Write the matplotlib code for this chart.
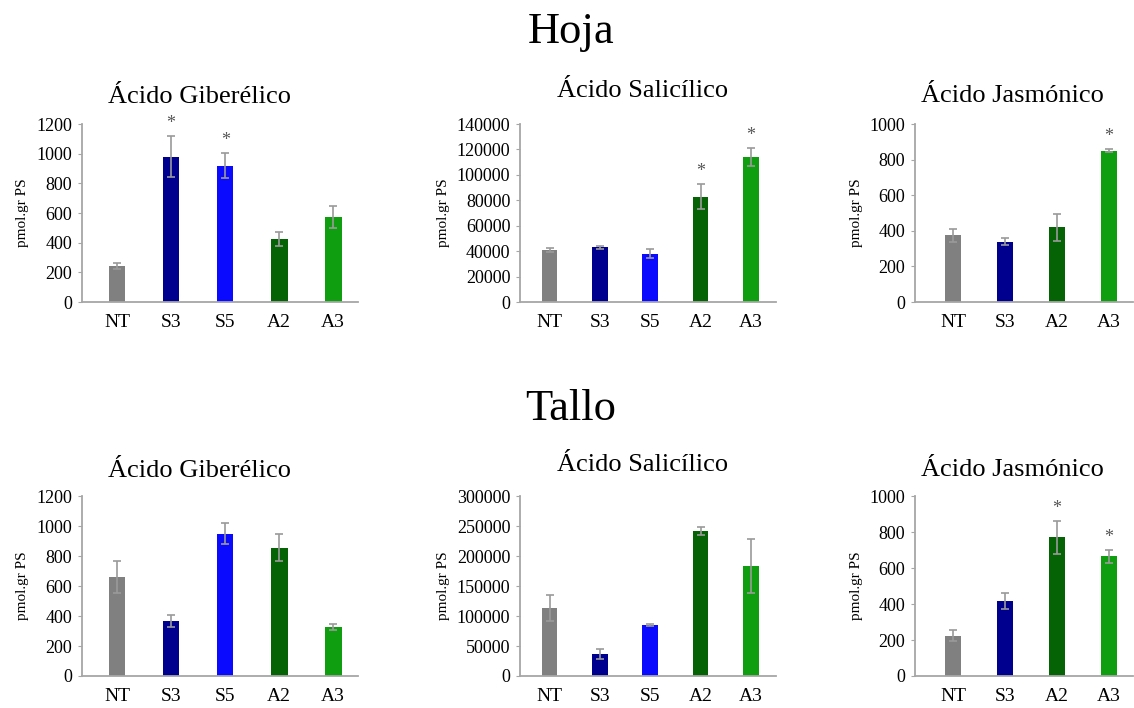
#!/usr/bin/env python3
import matplotlib
matplotlib.use('Agg')
import matplotlib.pyplot as plt

plt.rcParams['font.family'] = ['Liberation Serif', 'DejaVu Serif']

# Treatment colours shared by every panel
COLORS = {
    'NT': '#808080',
    'S3': '#00008f',
    'S5': '#0a0aff',
    'A2': '#056305',
    'A3': '#0f9e0f',
}

# Hoja (leaf)
hoja_ga_labels = ['NT', 'S3', 'S5', 'A2', 'A3']
hoja_ga_values = [245, 980, 920, 425, 575]
hoja_ga_errors = [20, 140, 85, 45, 75]
hoja_ga_stars = [False, True, True, False, False]

hoja_sa_labels = ['NT', 'S3', 'S5', 'A2', 'A3']
hoja_sa_values = [41000, 43000, 38000, 83000, 114000]
hoja_sa_errors = [1500, 1000, 3500, 10000, 7000]
hoja_sa_stars = [False, False, False, True, True]

hoja_ja_labels = ['NT', 'S3', 'A2', 'A3']
hoja_ja_values = [375, 340, 420, 850]
hoja_ja_errors = [35, 20, 75, 8]
hoja_ja_stars = [False, False, False, True]

# Tallo (stem)
tallo_ga_labels = ['NT', 'S3', 'S5', 'A2', 'A3']
tallo_ga_values = [660, 370, 950, 855, 325]
tallo_ga_errors = [105, 40, 70, 90, 20]
tallo_ga_stars = [False, False, False, False, False]

tallo_sa_labels = ['NT', 'S3', 'S5', 'A2', 'A3']
tallo_sa_values = [113000, 37000, 85000, 242000, 183000]
tallo_sa_errors = [22000, 8000, 2000, 7000, 45000]
tallo_sa_stars = [False, False, False, False, False]

tallo_ja_labels = ['NT', 'S3', 'A2', 'A3']
tallo_ja_values = [225, 415, 770, 665]
tallo_ja_errors = [30, 45, 90, 35]
tallo_ja_stars = [False, False, True, True]

GA_TICKS = [0, 200, 400, 600, 800, 1000, 1200]
SA_HOJA_TICKS = list(range(0, 140001, 20000))
SA_TALLO_TICKS = list(range(0, 300001, 50000))
JA_TICKS = [0, 200, 400, 600, 800, 1000]

AXIS_GRAY = '#a6a6a6'


def bar_panel(rect, title, labels, values, errors, stars, yticks, xlim, title_xy):
    ax = fig.add_axes(rect)
    x = list(range(len(labels)))
    ax.bar(x, values, width=0.31, color=[COLORS[l] for l in labels], zorder=2)
    ax.errorbar(x, values, yerr=errors, fmt='none', ecolor='#9a9a9a',
                elinewidth=1.2, capsize=3, capthick=1.2, zorder=3)
    for i, (v, e, s) in enumerate(zip(values, errors, stars)):
        if s:
            ax.annotate('*', xy=(i, v + e), xytext=(0, 3), textcoords='offset points',
                        ha='center', va='bottom', fontsize=13, color='#555555')
    ax.set_xlim(*xlim)
    ax.set_ylim(yticks[0], yticks[-1])
    ax.set_yticks(yticks)
    ax.set_yticklabels([str(t) for t in yticks], fontsize=13)
    ax.set_xticks(x)
    ax.set_xticklabels(labels, fontsize=14)
    for side in ('top', 'right'):
        ax.spines[side].set_visible(False)
    for side in ('left', 'bottom'):
        ax.spines[side].set_color(AXIS_GRAY)
        ax.spines[side].set_linewidth(1.3)
    ax.tick_params(axis='y', length=3, color=AXIS_GRAY, pad=4)
    ax.tick_params(axis='x', length=0, pad=8.5)
    ax.set_ylabel('pmol.gr PS', fontsize=11, labelpad=5)
    fig.text(title_xy[0] / W, 1 - title_xy[1] / H, title, ha='center',
             va='baseline', fontsize=19)
    return ax


W, H = 1134, 708
fig = plt.figure(figsize=(W / 100, H / 100), dpi=100)

fig.text(571 / W, 1 - 43 / H, 'Hoja', ha='center', va='baseline', fontsize=32)
fig.text(571 / W, 1 - 420 / H, 'Tallo', ha='center', va='baseline', fontsize=32)

top_b, top_h = 0.5734, 0.2514
bot_b, bot_h = 0.0452, 0.2542
col_left = (0.0723, 0.2434)
col_mid = (0.4586, 0.2257)
col_right = (0.8069, 0.1922)

bar_panel([col_left[0], top_b, col_left[1], top_h], 'Ácido Giberélico',
          hoja_ga_labels, hoja_ga_values, hoja_ga_errors, hoja_ga_stars,
          GA_TICKS, (-0.65, 4.46), (199, 103))
bar_panel([col_mid[0], top_b, col_mid[1], top_h], 'Ácido Salicílico',
          hoja_sa_labels, hoja_sa_values, hoja_sa_errors, hoja_sa_stars,
          SA_HOJA_TICKS, (-0.585, 4.495), (643, 97))
bar_panel([col_right[0], top_b, col_right[1], top_h], 'Ácido Jasmónico',
          hoja_ja_labels, hoja_ja_values, hoja_ja_errors, hoja_ja_stars,
          JA_TICKS, (-0.73, 3.46), (1012, 102))

bar_panel([col_left[0], bot_b, col_left[1], bot_h], 'Ácido Giberélico',
          tallo_ga_labels, tallo_ga_values, tallo_ga_errors, tallo_ga_stars,
          GA_TICKS, (-0.65, 4.46), (199, 477))
bar_panel([col_mid[0], bot_b, col_mid[1], bot_h], 'Ácido Salicílico',
          tallo_sa_labels, tallo_sa_values, tallo_sa_errors, tallo_sa_stars,
          SA_TALLO_TICKS, (-0.585, 4.495), (643, 471))
bar_panel([col_right[0], bot_b, col_right[1], bot_h], 'Ácido Jasmónico',
          tallo_ja_labels, tallo_ja_values, tallo_ja_errors, tallo_ja_stars,
          JA_TICKS, (-0.73, 3.46), (1012, 476))

fig.savefig('out.png', dpi=100)
